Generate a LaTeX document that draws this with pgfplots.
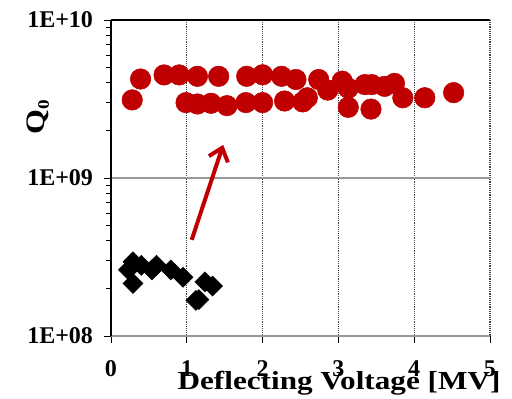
\documentclass[border=0pt]{standalone}
\usepackage{fontspec}
\setmainfont{Liberation Serif}
\newfontfamily\widefont{Liberation Serif}[FakeStretch=1.2]
\usepackage{pgfplots}
\pgfplotsset{compat=1.18}
\usetikzlibrary{arrows.meta}
\definecolor{dred}{RGB}{192,0,0}
\begin{document}
\begin{tikzpicture}
\begin{axis}[
  at={(0,0)}, anchor=south west,
  width=284.25pt, height=237pt, scale only axis,
  xmin=0, xmax=5, ymode=log, ymin=1e8, ymax=1e10,
  axis lines*=left,
  x axis line style={gray!80, line width=1.2pt},
  y axis line style={black, line width=0.9pt},
  xtick={0,1,2,3,4,5}, xticklabels={0,1,2,3,4,5},
  ytick={1e8,1e9,1e10}, yticklabels={1E+08,1E+09,1E+10},
  tick align=outside,
  major tick length=5pt, minor tick length=3.5pt,
  tick style={black, line width=0.6pt},
  ticklabel style={font=\bfseries\fontsize{18}{18}\selectfont},
  xticklabel style={yshift=-10pt},
  yticklabel style={xshift=-5pt},
  xmajorgrids, ymajorgrids,
  x grid style={densely dotted, black!75, line width=0.8pt},
  y grid style={gray!80, line width=0.8pt},
  clip=false,
]
\addplot[only marks, mark=square*, mark size=5.3pt, mark options={rotate=45, fill=black, draw=black}] coordinates {
(0.23,2.62e8) (0.29,2.95e8) (0.29,2.15e8) (0.40,2.8e8) (0.54,2.62e8) (0.60,2.8e8)
(0.79,2.62e8) (0.95,2.35e8) (1.12,1.68e8) (1.16,1.7e8) (1.24,2.2e8) (1.34,2.07e8)
};
\addplot[only marks, mark=*, mark size=7.7pt, color=dred, mark options={fill=dred, draw=dred}] coordinates {
(0.28,3.12e9) (0.39,4.23e9) (0.70,4.49e9) (0.90,4.49e9) (1.14,4.4e9) (1.42,4.4e9)
(1.79,4.4e9) (2.00,4.5e9) (2.25,4.4e9) (2.44,4.2e9) (2.74,4.2e9) (2.86,3.6e9)
(3.05,4.1e9) (3.13,3.7e9) (3.13,2.8e9) (3.35,3.9e9) (3.44,3.9e9) (3.43,2.73e9)
(3.61,3.8e9) (3.74,3.97e9) (3.85,3.22e9) (4.14,3.22e9) (4.52,3.47e9)
(0.99,3.0e9) (1.14,2.94e9) (1.32,2.97e9) (1.53,2.87e9) (1.78,3.0e9) (2.00,3.0e9)
(2.29,3.07e9) (2.53,3.03e9) (2.59,3.22e9)
};
\draw[black, line width=0.9pt] (axis cs:0,1e10) -- (axis cs:5,1e10);
\draw[dred, line width=3pt, -{Straight Barb[length=9pt,width=15pt]}] (axis cs:1.065,4.06e8) -- (axis cs:1.48,1.62e9);
\end{axis}
\node[rotate=90, font=\bfseries\fontsize{20}{20}\selectfont] at (-54.75pt,164pt) {\widefont Q\raisebox{-0.35ex}{\fontsize{12}{12}\selectfont 0}};
\node[anchor=base, font=\bfseries\fontsize{19.5}{19.5}\selectfont] at (171pt,-40.5pt) {\widefont Deflecting Voltage [MV]};
\pgfresetboundingbox
\path[use as bounding box] (-83.25pt,-47.25pt) rectangle (300.75pt,252pt);
\end{tikzpicture}
\end{document}
